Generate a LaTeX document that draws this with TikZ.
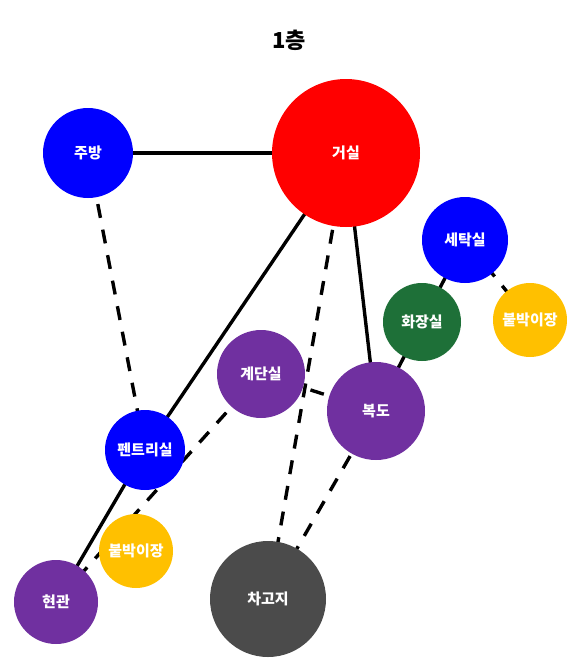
\documentclass[tikz,border=0pt]{standalone}
\usepackage{fontspec}
\setmainfont{Noto Sans CJK KR}
\usetikzlibrary{backgrounds}
\begin{document}
\begin{tikzpicture}[x=1pt,y=-1pt,
  room/.style={circle,fill=#1,draw=none,inner sep=0pt,text=white,font=\bfseries\fontsize{15}{17}\selectfont},
  wall/.style={line width=3.4pt,black},
  link/.style={line width=3.4pt,black,dash pattern=on 14pt off 12pt}]
\useasboundingbox (0,0) rectangle (580,670);
\definecolor{rRed}{HTML}{FF0000}
\definecolor{rBlue}{HTML}{0000FF}
\definecolor{rGreen}{HTML}{1E7038}
\definecolor{rYellow}{HTML}{FFC000}
\definecolor{rPurple}{HTML}{7030A0}
\definecolor{rGray}{HTML}{4B4B4B}

\node[font=\bfseries\fontsize{22}{26}\selectfont] (title) at (289,40) {1층};

% rooms
\node[room=rBlue,minimum size=90pt] (kitchen) at (88,153) {주방};
\node[room=rRed,minimum size=148pt] (living) at (346,153) {거실};
\node[room=rBlue,minimum size=86pt] (laundry) at (465,240) {세탁실};
\node[room=rGreen,minimum size=78pt] (bath) at (422,322) {화장실};
\node[room=rYellow,minimum size=74pt] (closetA) at (530,320) {붙박이장};
\node[room=rPurple,minimum size=88pt] (stairs) at (261,374) {계단실};
\node[room=rPurple,minimum size=98pt] (hall) at (376,411) {복도};
\node[room=rBlue,minimum size=80pt] (pantry) at (145,450) {펜트리실};
\node[room=rYellow,minimum size=74pt] (closetB) at (136,551) {붙박이장};
\node[room=rPurple,minimum size=84pt] (entry) at (56,602) {현관};
\node[room=rGray,minimum size=116pt] (garage) at (268,599) {차고지};

% connections, drawn behind the rooms
\begin{scope}[on background layer]
  \draw[wall] (kitchen.center) -- (living.center);
  \draw[link] (kitchen.center) -- (pantry.center);
  \draw[wall] (living.center) -- (pantry.center);
  \draw[wall] (pantry.center) -- (entry.center);
  \draw[wall] (living.center) -- (hall.center);
  \draw[link] (living.center) -- (garage.center);
  \draw[wall] (laundry.center) -- (bath.center);
  \draw[link,dash phase=19pt] (laundry.center) -- (closetA.center);
  \draw[wall] (bath.center) -- (hall.center);
  \draw[link] (stairs.center) -- (hall.center);
  \draw[link] (stairs.center) -- (entry.center);
  \draw[link] (hall.center) -- (garage.center);
\end{scope}
\end{tikzpicture}
\end{document}
